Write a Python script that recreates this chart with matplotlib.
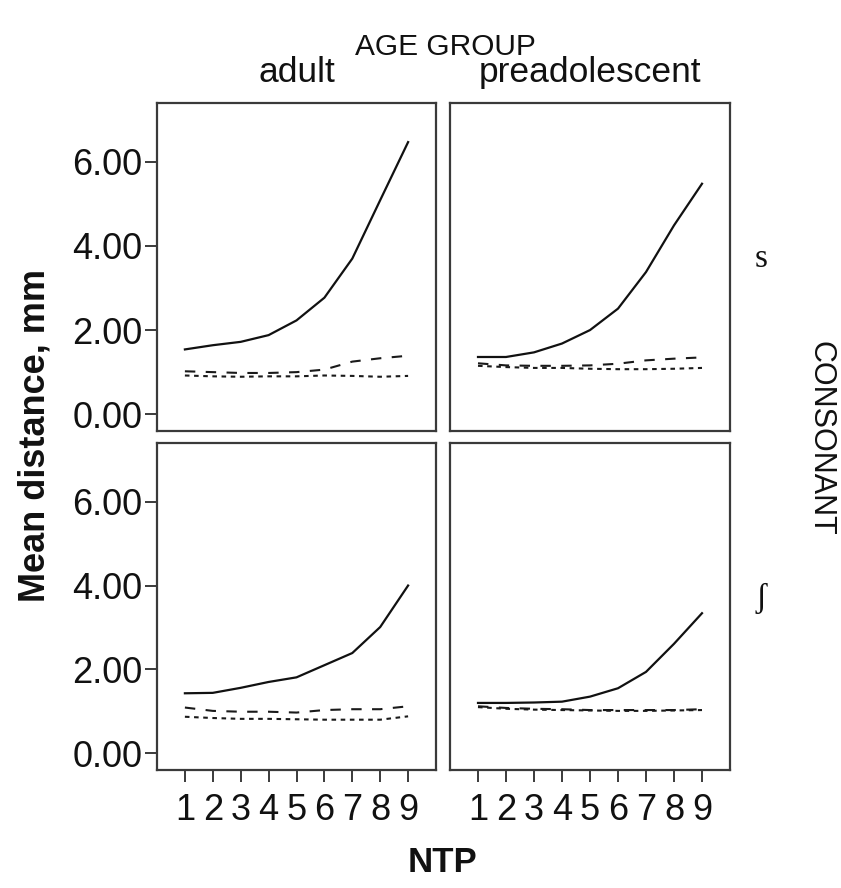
"""
Mean distance by NTP, split by age group (columns) and consonant (rows).
"""

import numpy as np
from matplotlib import pyplot as plt

# ---- data ----
ntp = [1, 2, 3, 4, 5, 6, 7, 8, 9]
age_groups = ["adult", "preadolescent"]
consonants = ["s", "\u0283"]

# solid / dashed / dotted series for each (consonant, age group) panel
adult_s_solid = [1.54, 1.64, 1.72, 1.88, 2.23, 2.77, 3.70, 5.09, 6.47]
adult_s_dashed = [1.02, 1.00, 0.98, 0.98, 1.00, 1.06, 1.25, 1.33, 1.39]
adult_s_dotted = [0.92, 0.90, 0.89, 0.90, 0.90, 0.92, 0.91, 0.89, 0.91]

pre_s_solid = [1.36, 1.36, 1.47, 1.68, 2.00, 2.51, 3.38, 4.49, 5.48]
pre_s_dashed = [1.21, 1.16, 1.15, 1.15, 1.16, 1.20, 1.28, 1.32, 1.35]
pre_s_dotted = [1.15, 1.12, 1.10, 1.10, 1.08, 1.07, 1.07, 1.08, 1.10]

adult_sh_solid = [1.43, 1.44, 1.56, 1.70, 1.81, 2.10, 2.39, 3.01, 4.00]
adult_sh_dashed = [1.09, 1.01, 0.99, 0.99, 0.97, 1.03, 1.05, 1.05, 1.12]
adult_sh_dotted = [0.87, 0.84, 0.82, 0.82, 0.81, 0.80, 0.80, 0.80, 0.88]

pre_sh_solid = [1.20, 1.20, 1.21, 1.23, 1.35, 1.55, 1.94, 2.61, 3.34]
pre_sh_dashed = [1.12, 1.08, 1.06, 1.05, 1.03, 1.03, 1.03, 1.03, 1.05]
pre_sh_dotted = [1.10, 1.06, 1.04, 1.03, 1.02, 1.01, 1.01, 1.02, 1.03]

y_ticks = [0, 2, 4, 6]

panels = {
    (0, 0): (adult_s_solid, adult_s_dashed, adult_s_dotted),
    (0, 1): (pre_s_solid, pre_s_dashed, pre_s_dotted),
    (1, 0): (adult_sh_solid, adult_sh_dashed, adult_sh_dotted),
    (1, 1): (pre_sh_solid, pre_sh_dashed, pre_sh_dotted),
}

# ---- styling ----
plt.rcParams["font.family"] = ["Liberation Sans", "DejaVu Sans"]
FRAME = "#3a3a3a"
W, H = 841, 888

# panel boxes in pixels: (left, top, right, bottom)
COL_X = [(157, 436), (450, 730)]
ROW_Y = [(103, 431), (443, 770)]

LINE_STYLES = [
    dict(linestyle="-", color="#111111", linewidth=1.6),
    dict(linestyle=(0, (5, 5)), color="#1a1a1a", linewidth=1.5),
    dict(linestyle=(0, (2.2, 2.2)), color="#1a1a1a", linewidth=1.5),
]

fig = plt.figure(figsize=(W / 100, H / 100), dpi=100)
fig.patch.set_facecolor("white")

for (r, c), series in panels.items():
    x0, x1 = COL_X[c]
    y0, y1 = ROW_Y[r]
    ax = fig.add_axes([x0 / W, 1 - y1 / H, (x1 - x0) / W, (y1 - y0) / H])
    for values, style in zip(series, LINE_STYLES):
        ax.plot(ntp, values, **style)
    ax.set_xlim(0, 10)
    ax.set_ylim(-0.4, 7.4)
    for sp in ax.spines.values():
        sp.set_color(FRAME)
        sp.set_linewidth(1.6)
    ax.tick_params(colors=FRAME, width=1.4, length=8.5, labelcolor="#111111",
                   labelsize=26)
    ax.set_xticks(ntp)
    ax.set_yticks(y_ticks)
    if c == 0:
        ax.set_yticklabels([f"{v:.2f}" for v in y_ticks])
        ax.tick_params(axis="y", pad=2)
    else:
        ax.tick_params(axis="y", left=False, labelleft=False)
    if r == 1:
        ax.set_xticklabels([str(v) for v in ntp])
        ax.tick_params(axis="x", pad=8)
    else:
        ax.tick_params(axis="x", bottom=False, labelbottom=False)

# column headers
fig.text(445 / W, 1 - 47 / H, "AGE GROUP", ha="center", va="center",
         fontsize=21.5, color="#111111")
for name, (x0, x1) in zip(age_groups, COL_X):
    fig.text((x0 + x1) / 2 / W, 1 - 72 / H, name, ha="center", va="center",
             fontsize=25.5, color="#111111")

# row labels on the right
for name, (y0, y1) in zip(consonants, ROW_Y):
    fig.text(761 / W, 1 - ((y0 + y1) / 2 - 8) / H, name, ha="center",
             va="center", fontsize=24, color="#111111",
             family=["Liberation Serif", "DejaVu Serif"])
fig.text(821 / W, 1 - 438 / H, "CONSONANT", ha="center", va="center",
         rotation=-90, fontsize=22, color="#111111")

# axis titles
fig.text(35 / W, 1 - 436 / H, "Mean distance, mm", ha="center", va="center",
         rotation=90, fontsize=26, fontweight="bold", color="#111111")
fig.text(443 / W, 1 - 862 / H, "NTP", ha="center", va="center",
         fontsize=25, fontweight="bold", color="#111111")

fig.savefig("out.png", dpi=100, facecolor="white")
